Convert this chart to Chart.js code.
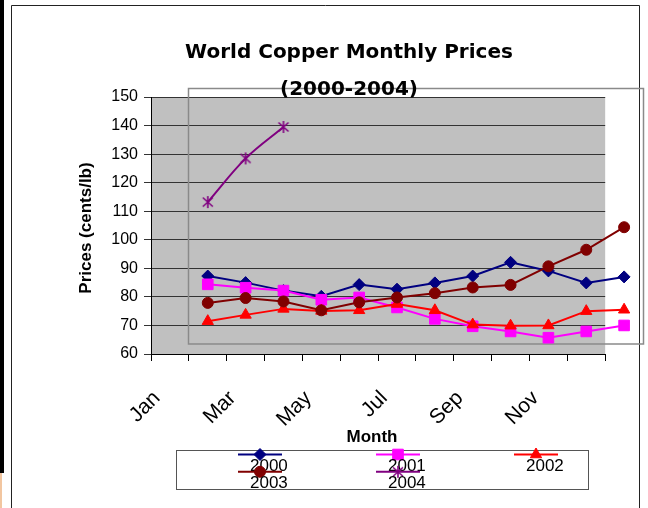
<!DOCTYPE html>
<html>
<head>
<meta charset="utf-8">
<script src="https://cdn.jsdelivr.net/npm/chart.js@4/dist/chart.umd.min.js"></script>
<style>
  html, body { margin: 0; padding: 0; background: #fff; }
  canvas { display: block; }
</style>
</head>
<body>
<canvas id="c" width="648" height="508"></canvas>
<script>
// ---------- data ----------
const months = ['Jan','Feb','Mar','Apr','May','Jun','Jul','Aug','Sep','Oct','Nov','Dec'];
const tickLabels = ['Jan','','Mar','','May','','Jul','','Sep','','Nov',''];
const seriesNames = ['2000','2001','2002','2003','2004'];
const prices2000 = [87.3, 85.0, 82.2, 80.2, 84.3, 82.7, 84.9, 87.3, 92.1, 89.1, 84.9, 87.0];
const prices2001 = [84.4, 83.2, 82.2, 79.0, 79.8, 76.3, 72.3, 69.7, 67.9, 65.7, 67.9, 70.0];
const prices2002 = [71.5, 73.7, 75.8, 75.1, 75.3, 77.5, 75.3, 70.3, 69.9, 70.0, 75.0, 75.5];
const prices2003 = [77.9, 79.6, 78.4, 75.3, 78.1, 79.8, 81.3, 83.3, 84.2, 90.7, 96.5, 104.4];
const prices2004 = [113.2, 128.5, 139.5];
const titleLines = ['World Copper Monthly Prices', '(2000-2004)'];
const yTitle = 'Prices (cents/lb)';
const xTitle = 'Month';
const yMin = 60, yMax = 150, yStep = 10;

// ---------- helpers ----------
// Points sit one category to the right of the first category (as in the original sheet)
const toXY = arr => arr.map((v, i) => ({ x: i + 1, y: v }));

function makeStar(color) {
  const c = document.createElement('canvas');
  c.width = 14; c.height = 14;
  const g = c.getContext('2d');
  g.strokeStyle = color; g.lineWidth = 1.6;
  g.beginPath();
  g.moveTo(7, 1); g.lineTo(7, 13);
  g.moveTo(2, 2.5); g.lineTo(12, 11.5);
  g.moveTo(12, 2.5); g.lineTo(2, 11.5);
  g.stroke();
  return c;
}
const starImg = makeStar('#800080');

const styles = [
  { color: '#000080', style: 'rectRot', r: 6 },
  { color: '#FF00FF', style: 'rect', r: 7.5 },
  { color: '#FF0000', style: 'triangle', r: 6.5 },
  { color: '#800000', style: 'circle', r: 5.5 },
  { color: '#800080', style: starImg, r: 6 }
];
const allSeries = [prices2000, prices2001, prices2002, prices2003, prices2004];

const datasets = allSeries.map((arr, i) => ({
  label: seriesNames[i],
  data: toXY(arr),
  borderColor: styles[i].color,
  backgroundColor: styles[i].color,
  pointStyle: styles[i].style,
  pointRadius: styles[i].r,
  pointBorderWidth: 1,
  pointBorderColor: styles[i].color,
  pointBackgroundColor: styles[i].color,
  borderWidth: 2,
  tension: i === 4 ? 0.35 : 0,
  clip: false,
  order: 5 - i
}));

function drawMarker(ctx, st, x, y) {
  ctx.save();
  ctx.fillStyle = st.color; ctx.strokeStyle = st.color; ctx.lineWidth = 1;
  const r = st.r;
  ctx.beginPath();
  if (st.style === 'rectRot') {
    ctx.moveTo(x - r, y); ctx.lineTo(x, y - r); ctx.lineTo(x + r, y); ctx.lineTo(x, y + r); ctx.closePath();
    ctx.fill(); ctx.stroke();
  } else if (st.style === 'rect') {
    const s = Math.SQRT1_2 * r;
    ctx.rect(x - s, y - s, 2 * s, 2 * s); ctx.fill(); ctx.stroke();
  } else if (st.style === 'triangle') {
    ctx.moveTo(x, y - r);
    ctx.lineTo(x + Math.sin(2 * Math.PI / 3) * r, y - Math.cos(2 * Math.PI / 3) * r);
    ctx.lineTo(x + Math.sin(4 * Math.PI / 3) * r, y - Math.cos(4 * Math.PI / 3) * r);
    ctx.closePath(); ctx.fill(); ctx.stroke();
  } else if (st.style === 'circle') {
    ctx.arc(x, y, r, 0, Math.PI * 2); ctx.fill(); ctx.stroke();
  } else {
    ctx.drawImage(st.style, x - st.style.width / 2, y - st.style.height / 2);
  }
  ctx.restore();
}

const decor = {
  id: 'decor',
  beforeDraw(chart) {
    const { ctx, chartArea: a } = chart;
    ctx.save();
    ctx.fillStyle = '#fff'; ctx.fillRect(0, 0, chart.width, chart.height);
    ctx.fillStyle = '#000'; ctx.fillRect(0, 0, 4, 473);
    ctx.fillStyle = '#f2c6a0'; ctx.fillRect(0, 473, 2, 35);
    ctx.strokeStyle = '#222'; ctx.lineWidth = 1;
    ctx.beginPath();
    ctx.moveTo(11.5, 508); ctx.lineTo(11.5, 5.5); ctx.lineTo(639.5, 5.5); ctx.lineTo(639.5, 508);
    ctx.stroke();
    ctx.fillStyle = '#c0c0c0';
    ctx.fillRect(a.left, a.top, a.right - a.left, a.bottom - a.top);
    ctx.restore();
  },
  beforeDatasetsDraw(chart) {
    const ctx = chart.ctx;
    ctx.save();
    ctx.strokeStyle = '#8a8a8a'; ctx.lineWidth = 1.5;
    ctx.strokeRect(188.5, 88.5, 455, 255.5);
    ctx.restore();
  },
  afterDatasetDraw(chart, args) {
    // markers that fall outside the plot area (right of the last category) are still shown
    const area = { left: 0, top: 0, right: chart.width, bottom: chart.height };
    const a = chart.chartArea;
    args.meta.data.forEach(el => {
      if (el.x > a.right || el.x < a.left) el.draw(chart.ctx, area);
    });
  },
  afterDraw(chart) {
    const ctx = chart.ctx;
    ctx.save();
    ctx.fillStyle = '#000';
    // title
    ctx.font = 'bold 20px "DejaVu Sans"';
    ctx.textAlign = 'center'; ctx.textBaseline = 'middle';
    ctx.fillText(titleLines[0], 349, 53);
    ctx.fillText(titleLines[1], 349, 90);
    // axis titles
    ctx.font = 'bold 17px "Liberation Sans"';
    ctx.fillText(xTitle, 372, 437);
    ctx.save();
    ctx.translate(86, 228);
    ctx.rotate(-Math.PI / 2);
    ctx.fillText(yTitle, 0, 0);
    ctx.restore();
    // legend
    ctx.strokeStyle = '#555'; ctx.lineWidth = 1;
    ctx.strokeRect(176.5, 450.5, 412, 39);
    ctx.font = '17px "Liberation Sans"';
    ctx.textAlign = 'left';
    chart.data.datasets.forEach((ds, i) => {
      const col = i % 3, row = Math.floor(i / 3);
      const x0 = 238 + col * 138;
      const y0 = 454.5 + row * 17.3;
      ctx.strokeStyle = ds.borderColor; ctx.lineWidth = 2;
      ctx.beginPath(); ctx.moveTo(x0, y0); ctx.lineTo(x0 + 44, y0); ctx.stroke();
      drawMarker(ctx, styles[i], x0 + 22, y0);
      ctx.fillStyle = '#000';
      ctx.fillText(ds.label, x0 + 12, y0 + 11.5);
    });
    ctx.restore();
  }
};

const boundaries = [];
for (let k = 0; k <= months.length; k++) boundaries.push(k - 0.5);

new Chart(document.getElementById('c'), {
  type: 'line',
  data: { datasets },
  plugins: [decor],
  options: {
    responsive: false,
    animation: false,
    devicePixelRatio: 1,
    layout: { padding: { left: 20, right: 40, top: 97, bottom: 0 } },
    plugins: { legend: { display: false }, title: { display: false }, tooltip: { enabled: false } },
    scales: {
      x: {
        type: 'linear',
        min: -0.5, max: months.length - 0.5,
        afterBuildTicks: s => { s.ticks = boundaries.map(v => ({ value: v })); },
        afterFit: s => { s.height = 154; },
        grid: { drawOnChartArea: false, tickLength: 7, color: '#000' },
        border: { color: '#000', width: 1 },
        ticks: {
          autoSkip: false, minRotation: 45, maxRotation: 45,
          padding: 25, labelOffset: 6,
          color: '#000',
          font: { family: 'Liberation Sans', size: 21 },
          callback: v => { const k = Math.round(v + 0.5); return tickLabels[k] !== undefined ? tickLabels[k] : ''; }
        }
      },
      y: {
        min: yMin, max: yMax,
        afterFit: s => { s.width = 131; },
        grid: { color: '#333', tickLength: 7 },
        border: { color: '#000', width: 1 },
        ticks: { stepSize: yStep, padding: 6, color: '#000', font: { family: 'Liberation Sans', size: 16 } }
      }
    }
  }
});
</script>
</body>
</html>
